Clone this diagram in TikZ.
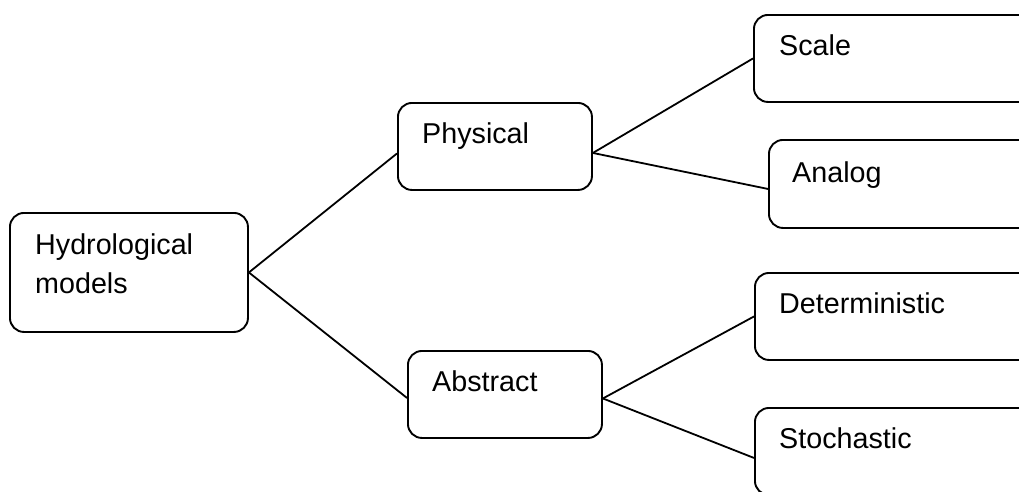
\documentclass[tikz,border=0pt]{standalone}
\usepackage{fontspec}
\setmainfont{Liberation Sans}
\begin{document}
\begin{tikzpicture}[x=1pt,y=-1pt,
  box/.style={draw=black, line width=1.9pt, rounded corners=14pt, rectangle, anchor=north west, inner sep=0pt},
  lbl/.style={anchor=base west, inner sep=0pt, font=\fontsize{28.7}{39.5}\selectfont},
  conn/.style={draw=black, line width=1.8pt}]
\useasboundingbox (0,0) rectangle (1019,491);
\clip (0,0) rectangle (1019,491);
% boxes
\node[box, minimum width=238pt, minimum height=119pt] (hydro) at (9,212) {};
\node[box, minimum width=194pt, minimum height=87pt] (phys) at (397,102) {};
\node[box, minimum width=194pt, minimum height=87pt] (abs) at (407,350) {};
\node[box, minimum width=280pt, minimum height=87pt] (scale) at (753,14) {};
\node[box, minimum width=280pt, minimum height=88pt] (analog) at (768,139) {};
\node[box, minimum width=280pt, minimum height=87pt] (det) at (754,272) {};
\node[box, minimum width=280pt, minimum height=87pt] (stoch) at (754,407) {};
% labels
\node[lbl, anchor=north west, align=left] (thydro) at (35,233) {Hydrological\\models};
\node[lbl] (tphys) at (422,143) {Physical};
\node[lbl] (tabs) at (432,391) {Abstract};
\node[lbl] (tscale) at (779,55) {Scale};
\node[lbl] (tanalog) at (792,182) {Analog};
\node[lbl] (tdet) at (779,313) {Deterministic};
\node[lbl] (tstoch) at (779,448) {Stochastic};
% connectors
\draw[conn] (hydro.east) -- ([yshift=-7pt]phys.west);
\draw[conn] (hydro.east) -- ([yshift=-3.5pt]abs.west);
\draw[conn] ([yshift=-6.5pt]phys.east) -- (scale.west);
\draw[conn] ([yshift=-6.5pt]phys.east) -- ([yshift=-5pt]analog.west);
\draw[conn] ([yshift=-4pt]abs.east) -- (det.west);
\draw[conn] ([yshift=-4pt]abs.east) -- ([yshift=-6.5pt]stoch.west);
\end{tikzpicture}
\end{document}
